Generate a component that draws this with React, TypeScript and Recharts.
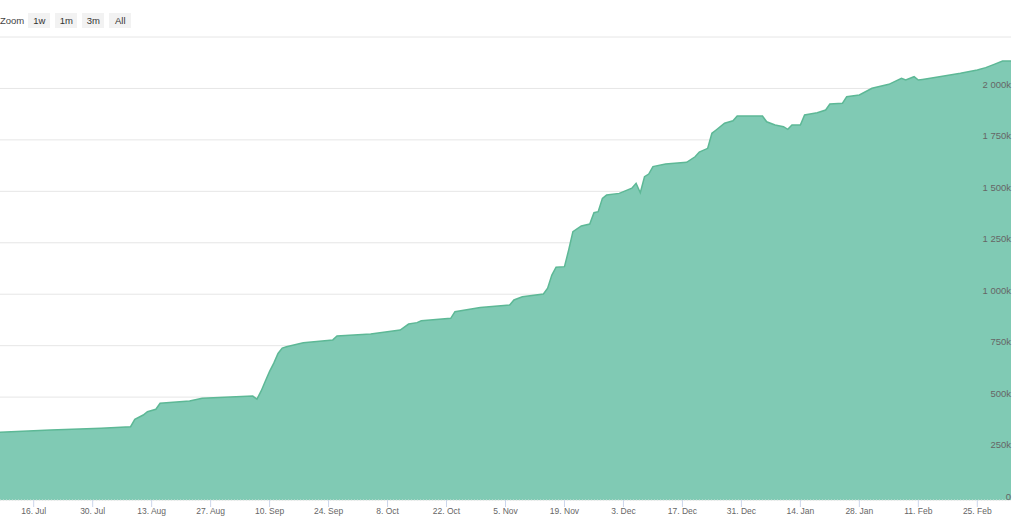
import { AreaChart, Area, XAxis, YAxis, CartesianGrid } from "recharts";

// daily total (thousands)
const dates = [
  "2018-07-08", "2018-07-20", "2018-08-01", "2018-08-08", "2018-08-09", "2018-08-11",
  "2018-08-12", "2018-08-14", "2018-08-15", "2018-08-22", "2018-08-25", "2018-09-06",
  "2018-09-07", "2018-09-08", "2018-09-09", "2018-09-10", "2018-09-11", "2018-09-12",
  "2018-09-13", "2018-09-14", "2018-09-18", "2018-09-25", "2018-09-26", "2018-10-04",
  "2018-10-11", "2018-10-13", "2018-10-15", "2018-10-16", "2018-10-23", "2018-10-24",
  "2018-10-30", "2018-11-06", "2018-11-07", "2018-11-09", "2018-11-14", "2018-11-15",
  "2018-11-16", "2018-11-17", "2018-11-19", "2018-11-20", "2018-11-21", "2018-11-23",
  "2018-11-25", "2018-11-26", "2018-11-27", "2018-11-28", "2018-11-29", "2018-12-02",
  "2018-12-05", "2018-12-06", "2018-12-07", "2018-12-08", "2018-12-09", "2018-12-10",
  "2018-12-13", "2018-12-18", "2018-12-20", "2018-12-21", "2018-12-23", "2018-12-24",
  "2018-12-25", "2018-12-27", "2018-12-29", "2018-12-30", "2019-01-05", "2019-01-06",
  "2019-01-08", "2019-01-10", "2019-01-11", "2019-01-12", "2019-01-14", "2019-01-15",
  "2019-01-18", "2019-01-20", "2019-01-21", "2019-01-24", "2019-01-25", "2019-01-28",
  "2019-01-31", "2019-02-04", "2019-02-07", "2019-02-08", "2019-02-10", "2019-02-11",
  "2019-02-12", "2019-02-16", "2019-02-21", "2019-02-25", "2019-02-27", "2019-03-01",
  "2019-03-03", "2019-03-05",
];

const values = [
  329, 340, 349, 356, 392, 413,
  429, 441, 470, 481, 494, 505,
  490, 530, 578, 625, 665, 712,
  738, 745, 764, 778, 797, 807,
  826, 855, 862, 871, 883, 915,
  936, 948, 972, 988, 1001, 1029,
  1093, 1131, 1134, 1215, 1304, 1332,
  1341, 1396, 1401, 1466, 1482, 1490,
  1515, 1539, 1493, 1571, 1584, 1620,
  1633, 1641, 1668, 1691, 1709, 1782,
  1798, 1831, 1843, 1866, 1866, 1838,
  1822, 1814, 1801, 1822, 1822, 1871,
  1882, 1895, 1924, 1928, 1960, 1968,
  2001, 2020, 2049, 2041, 2057, 2041,
  2044, 2057, 2074, 2090, 2101, 2117,
  2133, 2133,
];

const tickDates = [
  "2018-07-16", "2018-07-30", "2018-08-13", "2018-08-27", "2018-09-10", "2018-09-24",
  "2018-10-08", "2018-10-22", "2018-11-05", "2018-11-19", "2018-12-03", "2018-12-17",
  "2018-12-31", "2019-01-14", "2019-01-28", "2019-02-11", "2019-02-25",
];

const yTicks = [0, 250, 500, 750, 1000, 1250, 1500, 1750, 2000, 2250];

const zoomButtons = ["1w", "1m", "3m", "All"];

const MONTHS = ["Jan", "Feb", "Mar", "Apr", "May", "Jun", "Jul", "Aug", "Sep", "Oct", "Nov", "Dec"];

const toTime = (s: string) => new Date(s + "T00:00:00Z").getTime();

const data = dates.map((d, i) => ({ t: toTime(d), value: values[i] }));
const xTicks = tickDates.map(toTime);

const fmtDate = (t: number) => {
  const d = new Date(t);
  return `${d.getUTCDate()}. ${MONTHS[d.getUTCMonth()]}`;
};

const fmtValue = (v: number) => {
  if (v === 0) return "0";
  if (v >= 1000) return `${Math.floor(v / 1000)} ${String(v % 1000).padStart(3, "0")}k`;
  return `${v}k`;
};

// labels sit inside the plot, just above their gridline; top line has none
function YTick({ x, y, payload }: { x?: number; y?: number; payload?: { value: number } }) {
  if (!payload || payload.value >= 2250) return <g />;
  return (
    <text x={x ?? 0} y={(y ?? 0) - 0.5} textAnchor="end" fontSize={9.5} fill="#666666">
      {fmtValue(payload.value)}
    </text>
  );
}

const font = '"Liberation Sans", Arial, sans-serif';

export default function App() {
  return (
    <div style={{ position: "absolute", left: 0, top: 0, width: 1024, height: 530, background: "#fff", fontFamily: font }}>
      <div style={{ position: "absolute", left: 0, top: 12, height: 16, display: "flex", alignItems: "center", fontSize: 9.5, color: "#444" }}>
        <span style={{ marginRight: 4 }}>Zoom</span>
        {zoomButtons.map((b) => (
          <span
            key={b}
            style={{
              width: 22,
              height: 15,
              lineHeight: "15px",
              marginRight: 5,
              background: "#f2f2f2",
              textAlign: "center",
              color: "#333",
            }}
          >
            {b}
          </span>
        ))}
      </div>
      <AreaChart
        width={1024}
        height={530}
        data={data}
        margin={{ top: 37, right: 12, bottom: 0, left: 0 }}
        style={{ fontFamily: font }}
      >
        <CartesianGrid vertical={false} stroke="#e6e6e6" />
        <Area
          type="linear"
          dataKey="value"
          stroke="#5db896"
          strokeWidth={1.5}
          fill="#80cab4"
          fillOpacity={1}
          isAnimationActive={false}
        />
        <XAxis
          dataKey="t"
          type="number"
          scale="time"
          domain={[toTime("2018-07-08"), toTime("2019-03-05")]}
          ticks={xTicks}
          tickFormatter={fmtDate}
          height={30}
          tickSize={7}
          tickMargin={1}
          tick={{ fontSize: 8.5, fill: "#666666" }}
          tickLine={{ stroke: "#ccd6eb" }}
          axisLine={{ stroke: "#d4e2dc", strokeDasharray: "1 2" }}
          interval={0}
        />
        <YAxis
          orientation="right"
          width={1}
          domain={[0, 2250]}
          ticks={yTicks}
          tick={YTick}
          tickSize={0}
          tickMargin={0}
          tickLine={false}
          axisLine={false}
          interval={0}
        />
      </AreaChart>
    </div>
  );
}
